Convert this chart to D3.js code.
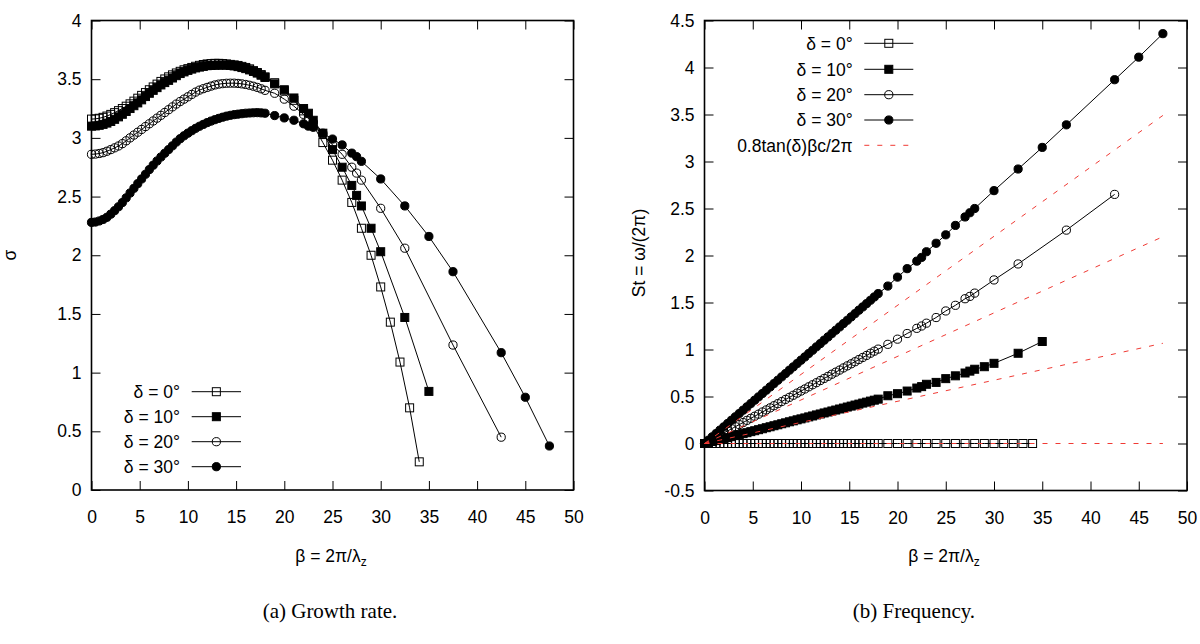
<!DOCTYPE html>
<html>
<head>
<meta charset="utf-8">
<script src="https://cdn.jsdelivr.net/npm/d3@7"></script>
<style>
  html, body { margin: 0; padding: 0; background: #fff; }
  svg { display: block; }
  .tick text { font-family: "Liberation Sans", Arial, sans-serif; font-size: 17.5px; fill: #000; }
</style>
</head>
<body>
<svg id="chart" width="1200" height="644"></svg>
<script>
// ---------------- DATA ----------------
const betaDense = [0,0.4,0.8,1.2,1.6,2.0,2.4,2.8,3.2,3.6,4.0,4.4,4.8,5.2,5.6,6.0,6.4,6.8,7.2,7.6,8.0,8.4,8.8,9.2,9.6,10.0,10.4,10.8,11.2,11.6,12.0,12.4,12.8,13.2,13.6,14.0,14.4,14.8,15.2,15.6,16.0,16.4,16.8,17.2,17.6,18.0];

const betaSparse0  = [19,20,21,22,23,24,25,26,27,28,29,30,31,32,33,34];
const betaSparse10 = [19,20,21,22,22.5,23,24,25,26,27,27.5,28,29,30,32.5,35];
const betaSparse20 = [19,20,21,22,22.5,23,24,25,26,27,27.5,28,30,32.5,37.5,42.5];
const betaSparse30 = [19,20,21,22,22.5,23,24,25,26,27,27.5,28,30,32.5,35,37.5,42.5,45,47.5];

// Growth rate sigma (panel a)
const sigma0Dense  = [3.160,3.162,3.167,3.175,3.186,3.200,3.215,3.232,3.250,3.270,3.290,3.313,3.338,3.362,3.386,3.410,3.434,3.458,3.481,3.502,3.520,3.537,3.553,3.567,3.580,3.590,3.600,3.610,3.618,3.625,3.630,3.633,3.635,3.635,3.633,3.630,3.626,3.622,3.617,3.609,3.600,3.588,3.573,3.557,3.539,3.520];
const sigma0Sparse = [3.47,3.40,3.32,3.23,3.11,2.96,2.81,2.64,2.45,2.23,2.00,1.73,1.43,1.09,0.70,0.24];

const sigma10Dense  = [3.100,3.102,3.107,3.115,3.126,3.140,3.158,3.179,3.201,3.225,3.250,3.274,3.298,3.324,3.352,3.380,3.405,3.428,3.451,3.471,3.490,3.510,3.530,3.548,3.562,3.575,3.586,3.596,3.603,3.609,3.615,3.617,3.619,3.620,3.620,3.620,3.617,3.613,3.607,3.599,3.590,3.579,3.566,3.552,3.534,3.515];
const sigma10Sparse = [3.46,3.41,3.34,3.25,3.21,3.15,3.04,2.90,2.75,2.595,2.51,2.42,2.23,2.03,1.47,0.84];

const sigma20Dense  = [2.860,2.862,2.867,2.874,2.886,2.900,2.915,2.931,2.951,2.975,3.000,3.024,3.048,3.072,3.096,3.120,3.144,3.168,3.192,3.216,3.240,3.264,3.288,3.310,3.330,3.350,3.370,3.390,3.407,3.419,3.430,3.441,3.451,3.458,3.462,3.465,3.466,3.466,3.464,3.460,3.455,3.448,3.440,3.430,3.418,3.405];
const sigma20Sparse = [3.38,3.33,3.27,3.20,3.165,3.135,3.03,2.94,2.86,2.75,2.70,2.64,2.40,2.06,1.235,0.45];

const sigma30Dense  = [2.280,2.283,2.292,2.305,2.323,2.350,2.380,2.413,2.449,2.489,2.530,2.570,2.610,2.650,2.690,2.730,2.767,2.803,2.837,2.869,2.900,2.932,2.964,2.993,3.018,3.040,3.061,3.081,3.099,3.115,3.130,3.143,3.155,3.166,3.176,3.185,3.192,3.198,3.202,3.206,3.210,3.212,3.214,3.215,3.213,3.210];
const sigma30Sparse = [3.19,3.17,3.15,3.12,3.10,3.09,3.04,2.99,2.94,2.87,2.84,2.80,2.65,2.42,2.16,1.86,1.17,0.79,0.375];

// Strouhal number St (panel b)
const st0Dense  = [0,0,0,0,0,0,0,0,0,0,0,0,0,0,0,0,0,0,0,0,0,0,0,0,0,0,0,0,0,0,0,0,0,0,0,0,0,0,0,0,0,0,0,0,0,0];
const st0Sparse = [0,0,0,0,0,0,0,0,0,0,0,0,0,0,0,0];

const st10Dense  = [0,0.010,0.021,0.031,0.042,0.052,0.063,0.073,0.084,0.094,0.105,0.115,0.126,0.136,0.147,0.157,0.168,0.178,0.189,0.199,0.210,0.220,0.231,0.241,0.252,0.262,0.272,0.283,0.293,0.304,0.314,0.325,0.335,0.346,0.356,0.367,0.377,0.388,0.398,0.409,0.419,0.430,0.440,0.451,0.461,0.472];
const st10Sparse = [0.508,0.53,0.558,0.59,0.605,0.63,0.65,0.69,0.72,0.75,0.77,0.79,0.817,0.853,0.96,1.085];

const st20Dense  = [0,0.022,0.045,0.067,0.089,0.112,0.134,0.156,0.179,0.201,0.223,0.246,0.268,0.290,0.312,0.335,0.357,0.379,0.402,0.424,0.446,0.469,0.491,0.513,0.536,0.558,0.580,0.603,0.625,0.647,0.670,0.692,0.714,0.737,0.759,0.781,0.804,0.826,0.848,0.870,0.893,0.915,0.937,0.960,0.982,1.004];
const st20Sparse = [1.055,1.11,1.17,1.225,1.25,1.28,1.34,1.41,1.47,1.54,1.565,1.60,1.74,1.91,2.27,2.65];

const st30Dense  = [0,0.035,0.071,0.106,0.142,0.177,0.213,0.248,0.284,0.319,0.354,0.390,0.425,0.461,0.496,0.532,0.567,0.602,0.638,0.673,0.709,0.744,0.780,0.815,0.851,0.886,0.921,0.957,0.992,1.028,1.063,1.099,1.134,1.170,1.205,1.240,1.276,1.311,1.347,1.382,1.418,1.453,1.488,1.524,1.559,1.595];
const st30Sparse = [1.675,1.77,1.86,1.94,1.98,2.04,2.13,2.22,2.32,2.41,2.455,2.50,2.69,2.92,3.15,3.39,3.87,4.11,4.36];

// Model line 0.8 tan(delta) beta c / 2pi (end points)
const modelBeta = [0, 47.5];
const model0  = [0, 0];
const model10 = [0, 1.066];
const model20 = [0, 2.20];
const model30 = [0, 3.49];

const seriesLabels = ["δ = 0°", "δ = 10°", "δ = 20°", "δ = 30°"];
const seriesMarkers = ["sqOpen", "sqFill", "cOpen", "cFill"];
const modelLabel = "0.8tan(δ)βc/2π";

const xTicks = [0,5,10,15,20,25,30,35,40,45,50];
const yTicksA = [0,0.5,1,1.5,2,2.5,3,3.5,4];
const yTicksB = [-0.5,0,0.5,1,1.5,2,2.5,3,3.5,4,4.5];

// ---------------- DRAWING ----------------
const svg = d3.select("#chart");
const FONT = '"Liberation Sans", Arial, sans-serif';
const FS = 17.5;
const RED = "#f03a34";

function zip(xs, ys) { return xs.map((x, i) => [x, ys[i]]); }

const dataA = [
  zip(betaDense.concat(betaSparse0),  sigma0Dense.concat(sigma0Sparse)),
  zip(betaDense.concat(betaSparse10), sigma10Dense.concat(sigma10Sparse)),
  zip(betaDense.concat(betaSparse20), sigma20Dense.concat(sigma20Sparse)),
  zip(betaDense.concat(betaSparse30), sigma30Dense.concat(sigma30Sparse))
];
const dataB = [
  zip(betaDense.concat(betaSparse0),  st0Dense.concat(st0Sparse)),
  zip(betaDense.concat(betaSparse10), st10Dense.concat(st10Sparse)),
  zip(betaDense.concat(betaSparse20), st20Dense.concat(st20Sparse)),
  zip(betaDense.concat(betaSparse30), st30Dense.concat(st30Sparse))
];
const models = [model0, model10, model20, model30].map(m => zip(modelBeta, m));

function drawMarker(g, type, x, y) {
  const s = 8, r = 4.1;
  if (type === "sqOpen" || type === "sqFill") {
    g.append("rect").attr("x", x - s/2).attr("y", y - s/2).attr("width", s).attr("height", s)
      .attr("fill", type === "sqFill" ? "#000" : "none").attr("stroke", "#000").attr("stroke-width", 1);
  } else {
    g.append("circle").attr("cx", x).attr("cy", y).attr("r", r)
      .attr("fill", type === "cFill" ? "#000" : "none").attr("stroke", "#000").attr("stroke-width", 1);
  }
}

function frame(g, x, y, yTicks) {
  const fmt = d => String(d);
  const ax = g.append("g").attr("transform", `translate(0,${y.range()[0]})`)
    .call(d3.axisBottom(x).tickValues(xTicks).tickFormat(fmt).tickSizeInner(-9).tickSizeOuter(0).tickPadding(21));
  const ay = g.append("g").attr("transform", `translate(${x.range()[0]},0)`)
    .call(d3.axisLeft(y).tickValues(yTicks).tickFormat(fmt).tickSizeInner(-9).tickSizeOuter(0).tickPadding(10));
  const at = g.append("g").attr("transform", `translate(0,${y.range()[1]})`)
    .call(d3.axisTop(x).tickValues(xTicks).tickFormat("").tickSizeInner(-9).tickSizeOuter(0));
  const ar = g.append("g").attr("transform", `translate(${x.range()[1]},0)`)
    .call(d3.axisRight(y).tickValues(yTicks).tickFormat("").tickSizeInner(-9).tickSizeOuter(0));
  [ax, ay, at, ar].forEach(a => {
    a.select(".domain").remove();
    a.selectAll(".tick line").attr("stroke", "#000").attr("stroke-width", 1);
  });
  g.append("rect")
    .attr("x", x.range()[0]).attr("y", y.range()[1])
    .attr("width", x.range()[1] - x.range()[0]).attr("height", y.range()[0] - y.range()[1])
    .attr("fill", "none").attr("stroke", "#000").attr("stroke-width", 1.6);
}

function xLabel(g, cx, cy) {
  const t = g.append("text").attr("x", cx).attr("y", cy).attr("text-anchor", "middle")
    .attr("font-family", FONT).attr("font-size", FS).attr("fill", "#000");
  t.append("tspan").text("β = 2π/λ");
  t.append("tspan").attr("font-size", 12).attr("dy", 4).text("z");
}

function drawSeries(g, x, y, data) {
  const line = d3.line().x(d => x(d[0])).y(d => y(d[1]));
  data.forEach((pts, i) => {
    g.append("path").datum(pts).attr("d", line).attr("fill", "none").attr("stroke", "#000").attr("stroke-width", 1);
    const mg = g.append("g");
    pts.forEach(p => drawMarker(mg, seriesMarkers[i], x(p[0]), y(p[1])));
  });
}

function legendRow(g, textX, lineX0, lineX1, cy, label, marker, dashed) {
  g.append("text").attr("x", textX).attr("y", cy).attr("dy", "0.36em").attr("text-anchor", "end")
    .attr("font-family", FONT).attr("font-size", FS).attr("fill", "#000").text(label);
  const ln = g.append("line").attr("x1", lineX0).attr("x2", lineX1).attr("y1", cy).attr("y2", cy);
  if (dashed) {
    ln.attr("stroke", RED).attr("stroke-width", 1).attr("stroke-dasharray", "5,8");
  } else {
    ln.attr("stroke", "#000").attr("stroke-width", 1);
    drawMarker(g, marker, (lineX0 + lineX1) / 2, cy);
  }
}

// ---- Panel (a) ----
const xA = d3.scaleLinear().domain([0, 50]).range([91.5, 573.5]);
const yA = d3.scaleLinear().domain([0, 4]).range([490, 20.5]);
const gA = svg.append("g");
frame(gA, xA, yA, yTicksA);
drawSeries(gA, xA, yA, dataA);
xLabel(gA, 331, 562);
gA.append("text").attr("transform", "translate(16,255) rotate(-90)").attr("text-anchor", "middle")
  .attr("font-family", FONT).attr("font-size", FS).attr("fill", "#000").text("σ");
const legYA = [391.7, 416.7, 441.7, 466.7];
seriesLabels.forEach((lab, i) => legendRow(gA, 180, 191.7, 241, legYA[i], lab, seriesMarkers[i], false));
gA.append("text").attr("x", 330).attr("y", 618).attr("text-anchor", "middle")
  .attr("font-family", '"Liberation Serif", "Times New Roman", serif').attr("font-size", 21).attr("fill", "#000")
  .text("(a) Growth rate.");

// ---- Panel (b) ----
const xB = d3.scaleLinear().domain([0, 50]).range([704.5, 1187]);
const yB = d3.scaleLinear().domain([-0.5, 4.5]).range([490.5, 20.5]);
const gB = svg.append("g");
frame(gB, xB, yB, yTicksB);
drawSeries(gB, xB, yB, dataB);
const mline = d3.line().x(d => xB(d[0])).y(d => yB(d[1]));
models.forEach(m => {
  gB.append("path").datum(m).attr("d", mline).attr("fill", "none")
    .attr("stroke", RED).attr("stroke-width", 1).attr("stroke-dasharray", "5,8");
});
xLabel(gB, 944, 562);
gB.append("text").attr("transform", "translate(645,253) rotate(-90)").attr("text-anchor", "middle")
  .attr("font-family", FONT).attr("font-size", FS).attr("fill", "#000").text("St = ω/(2π)");
const legYB = [43.3, 69.3, 94.7, 120, 145.3];
seriesLabels.forEach((lab, i) => legendRow(gB, 852.7, 864.3, 913.3, legYB[i], lab, seriesMarkers[i], false));
legendRow(gB, 852.7, 864.3, 913.3, legYB[4], modelLabel, null, true);
gB.append("text").attr("x", 914).attr("y", 618).attr("text-anchor", "middle")
  .attr("font-family", '"Liberation Serif", "Times New Roman", serif').attr("font-size", 21).attr("fill", "#000")
  .text("(b) Frequency.");
</script>
</body>
</html>
